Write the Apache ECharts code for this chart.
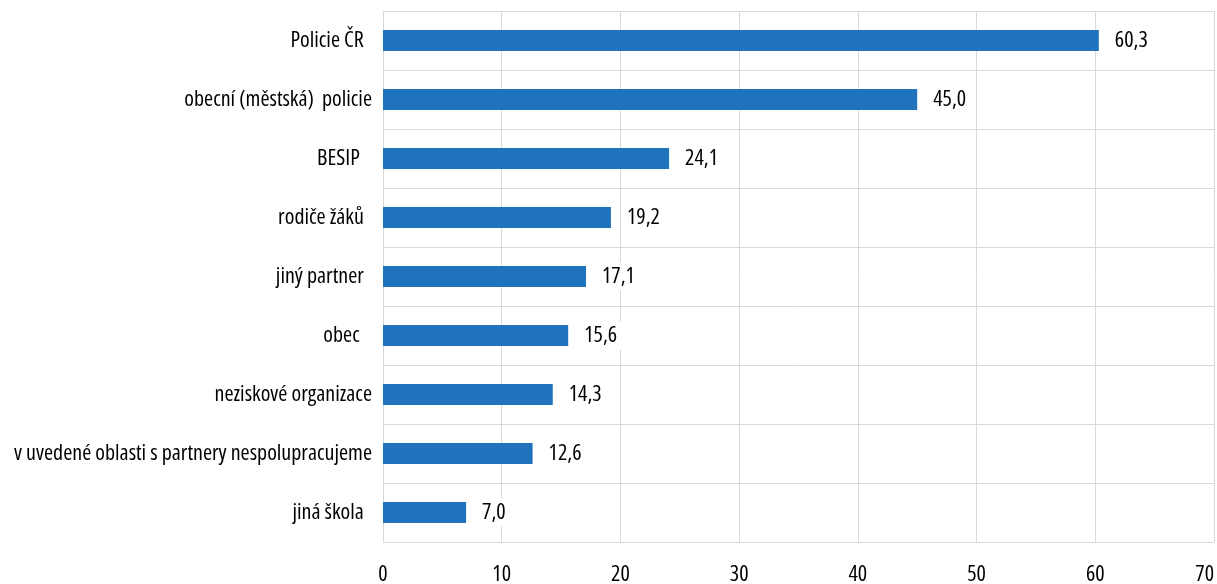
<!DOCTYPE html>
<html>
<head>
<meta charset="utf-8">
<script src="https://cdn.jsdelivr.net/npm/echarts@6/dist/echarts.min.js"></script>
<style>html,body{margin:0;padding:0;background:#fff}#c{width:1217px;height:584px}</style>
</head>
<body>
<div id="c"></div>
<script>
const categories = ["Policie ČR  ", "obecní (městská)  policie", "BESIP   ", "rodiče žáků  ", "jiný partner  ", "obec   ", "neziskové organizace", "v uvedené oblasti s partnery nespolupracujeme", "jiná škola  "];
const values = [60.3, 45.0, 24.1, 19.2, 17.1, 15.6, 14.3, 12.6, 7.0];
const xTicks = [0, 10, 20, 30, 40, 50, 60, 70];

const FONT = "'Open Sans', sans-serif";
const FS = 'condensed';
const SIZE = 22;
const chart = echarts.init(document.getElementById('c'));
chart.setOption({
  animation: false,
  backgroundColor: '#fff',
  grid: { left: 383, right: 3, top: 11, bottom: 42, containLabel: false, outerBoundsMode: 'none' },
  xAxis: {
    type: 'value', min: xTicks[0], max: xTicks[xTicks.length - 1], interval: 10,
    axisLine: { show: false }, axisTick: { show: false },
    splitLine: { show: true, lineStyle: { color: '#d9d9d9', width: 1 } },
    axisLabel: { fontFamily: FONT, fontStyle: FS, fontSize: SIZE, color: '#000', margin: 22, alignMaxLabel: 'right' }
  },
  yAxis: {
    type: 'category', data: categories, inverse: true,
    axisLine: { show: false }, axisTick: { show: false },
    splitLine: { show: true, lineStyle: { color: '#d9d9d9', width: 1 } },
    axisLabel: { fontFamily: FONT, fontStyle: FS, fontSize: SIZE, color: '#000', margin: 11 }
  },
  series: [{
    type: 'bar', data: values, barWidth: 21,
    itemStyle: { color: '#1f73bc' },
    label: {
      show: true, position: 'right', distance: 12,
      fontFamily: FONT, fontStyle: FS, fontSize: SIZE, color: '#000',
      backgroundColor: '#fff', padding: [3, 4],
      formatter: p => p.value.toFixed(1).replace('.', ',')
    }
  }]
});
</script>
</body>
</html>
